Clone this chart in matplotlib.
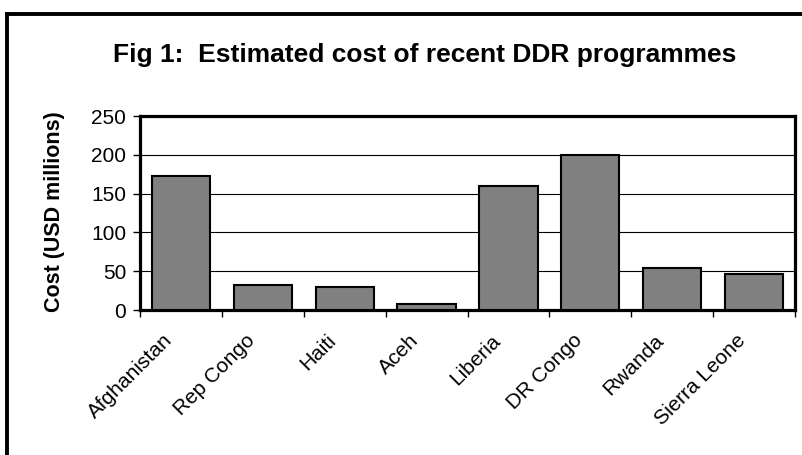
import matplotlib
matplotlib.use("Agg")
import matplotlib.pyplot as plt
from matplotlib.lines import Line2D
from matplotlib.transforms import ScaledTranslation
import numpy as np

plt.rcParams['font.family'] = ['Liberation Sans', 'DejaVu Sans']

countries = ['Afghanistan', 'Rep Congo', 'Haiti', 'Aceh', 'Liberia',
             'DR Congo', 'Rwanda', 'Sierra Leone']
cost = [173, 32, 29, 8, 160, 200, 54, 46]
yticks = [0, 50, 100, 150, 200, 250]

W, H = 803, 455
fig = plt.figure(figsize=(W / 100, H / 100), dpi=100)

# outer frame (runs off right and bottom edge)
fig.add_artist(Line2D([7.5 / W, 7.5 / W], [-0.1, 1 - 13.5 / H], color='black',
                      lw=2.8, transform=fig.transFigure, solid_capstyle='projecting'))
fig.add_artist(Line2D([7.5 / W, 1.1], [1 - 13.5 / H, 1 - 13.5 / H], color='black',
                      lw=2.8, transform=fig.transFigure, solid_capstyle='projecting'))

ax = fig.add_axes([140 / W, 1 - 310 / H, (795 - 140) / W, (310 - 116) / H])

x = np.arange(len(countries))
ax.bar(x, cost, width=0.71, color='#808080', edgecolor='black', linewidth=1.5, zorder=3)

ax.set_xlim(-0.5, len(countries) - 0.5)
ax.set_ylim(0, 250)
ax.set_yticks(yticks)
ax.set_yticklabels([str(v) for v in yticks], fontsize=15)
ax.yaxis.grid(True, color='black', linewidth=0.8, zorder=0)

# ticks between categories, labels centred
ax.set_xticks(np.arange(-0.5, len(countries) + 0.5, 1))
ax.set_xticklabels([])
ax.set_xticks(x, minor=True)
ax.set_xticklabels(countries, minor=True, rotation=45, ha='right',
                   rotation_mode='anchor', fontsize=15)
ax.tick_params(axis='x', which='minor', length=0, pad=15)
ax.tick_params(axis='x', which='major', length=5, width=1, direction='out')
ax.tick_params(axis='y', length=5, width=1, direction='out', pad=5)

shift = ScaledTranslation(-18 / 100, 0, fig.dpi_scale_trans)
for lab in ax.get_xticklabels(minor=True):
    lab.set_transform(lab.get_transform() + shift)

for s in ax.spines.values():
    s.set_linewidth(2.3)

fig.text(55 / W, 1 - 212 / H, 'Cost (USD millions)', rotation=90,
         ha='center', va='center', fontsize=15.5, fontweight='bold')

fig.text(425 / W, 1 - 55 / H, 'Fig 1:  Estimated cost of recent DDR programmes',
         ha='center', va='center', fontsize=19, fontweight='bold')

fig.savefig('out.png', dpi=100)
